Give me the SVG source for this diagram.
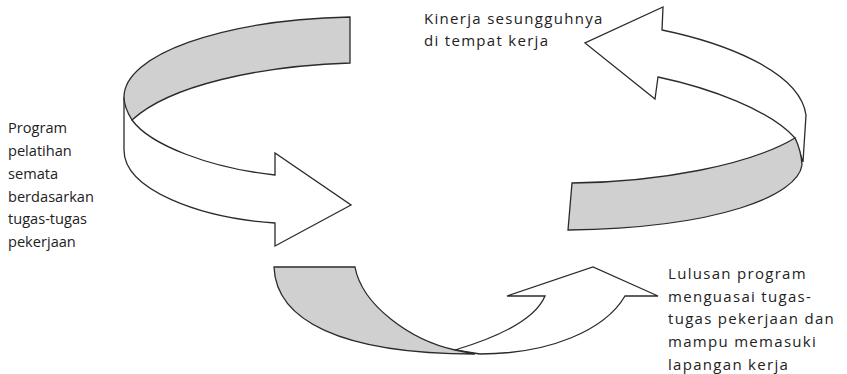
<svg xmlns="http://www.w3.org/2000/svg" width="847" height="374" viewBox="0 0 847 374">
<style>
.w{fill:#ffffff;stroke:#2b2b2b;stroke-width:1.3;stroke-linejoin:miter}
.g{fill:#d0d0d0;stroke:#2b2b2b;stroke-width:1.3;stroke-linejoin:miter}
.t{font-family:"Open Sans","Liberation Sans",sans-serif;font-size:15px;font-weight:500;fill:#222222}
.l{font-size:14.6px}
.s{letter-spacing:1.3px}
</style>
<rect width="847" height="374" fill="#ffffff"/>
<g id="connectors">
<g id="arrow-top-left">
<path class="w" d="M124,97 L124,150 C124,190 200,218 275,223 L275,246 L351,205 L275,153 L275,175 C210,168 150,145 132,120 Z"/>
<path class="g" d="M350,17 L350,63 C260,66 170,85 132,120 C127,112 124,105 124,97 C124,55 220,20 350,17 Z"/>
</g>
<g id="arrow-top-right">
<path class="w" d="M662,30 L663,7 L585,43 L655,99 L658,77 C710,88 770,110 795,138 L803,162 L806,115 C800,70 720,42 662,30 Z"/>
<path class="g" d="M572,183 C660,182 750,165 795,138 Q801,150 802,165 C798,195 720,228 568,230 Z"/>
</g>
<g id="arrow-bottom">
<path class="w" d="M455,350 C495,338 535,320 545,296 L507,296 L593,267 L658,296 L625,296 C605,330 550,354 480,354 Z"/>
<path class="g" d="M274,267 L355,267 C362,305 410,340 455,350 L475,354 C340,354 276,320 274,267 Z"/>
</g>
</g>
<g id="node-kinerja">
<text class="t s" x="424" y="24">Kinerja sesungguhnya</text>
<text class="t s" x="424" y="46">di tempat kerja</text>
</g>
<g id="node-program">
<text class="t l" x="8" y="133">Program</text>
<text class="t l" x="8" y="156">pelatihan</text>
<text class="t l" x="8" y="179">semata</text>
<text class="t l" x="8" y="201.5">berdasarkan</text>
<text class="t l" x="8" y="224">tugas-tugas</text>
<text class="t l" x="8" y="247">pekerjaan</text>
</g>
<g id="node-lulusan">
<text class="t s" x="668" y="279">Lulusan program</text>
<text class="t s" x="668" y="301.7">menguasai tugas-</text>
<text class="t s" x="668" y="324.4">tugas pekerjaan dan</text>
<text class="t s" x="668" y="347">mampu memasuki</text>
<text class="t s" x="668" y="369.7">lapangan kerja</text>
</g>
</svg>
